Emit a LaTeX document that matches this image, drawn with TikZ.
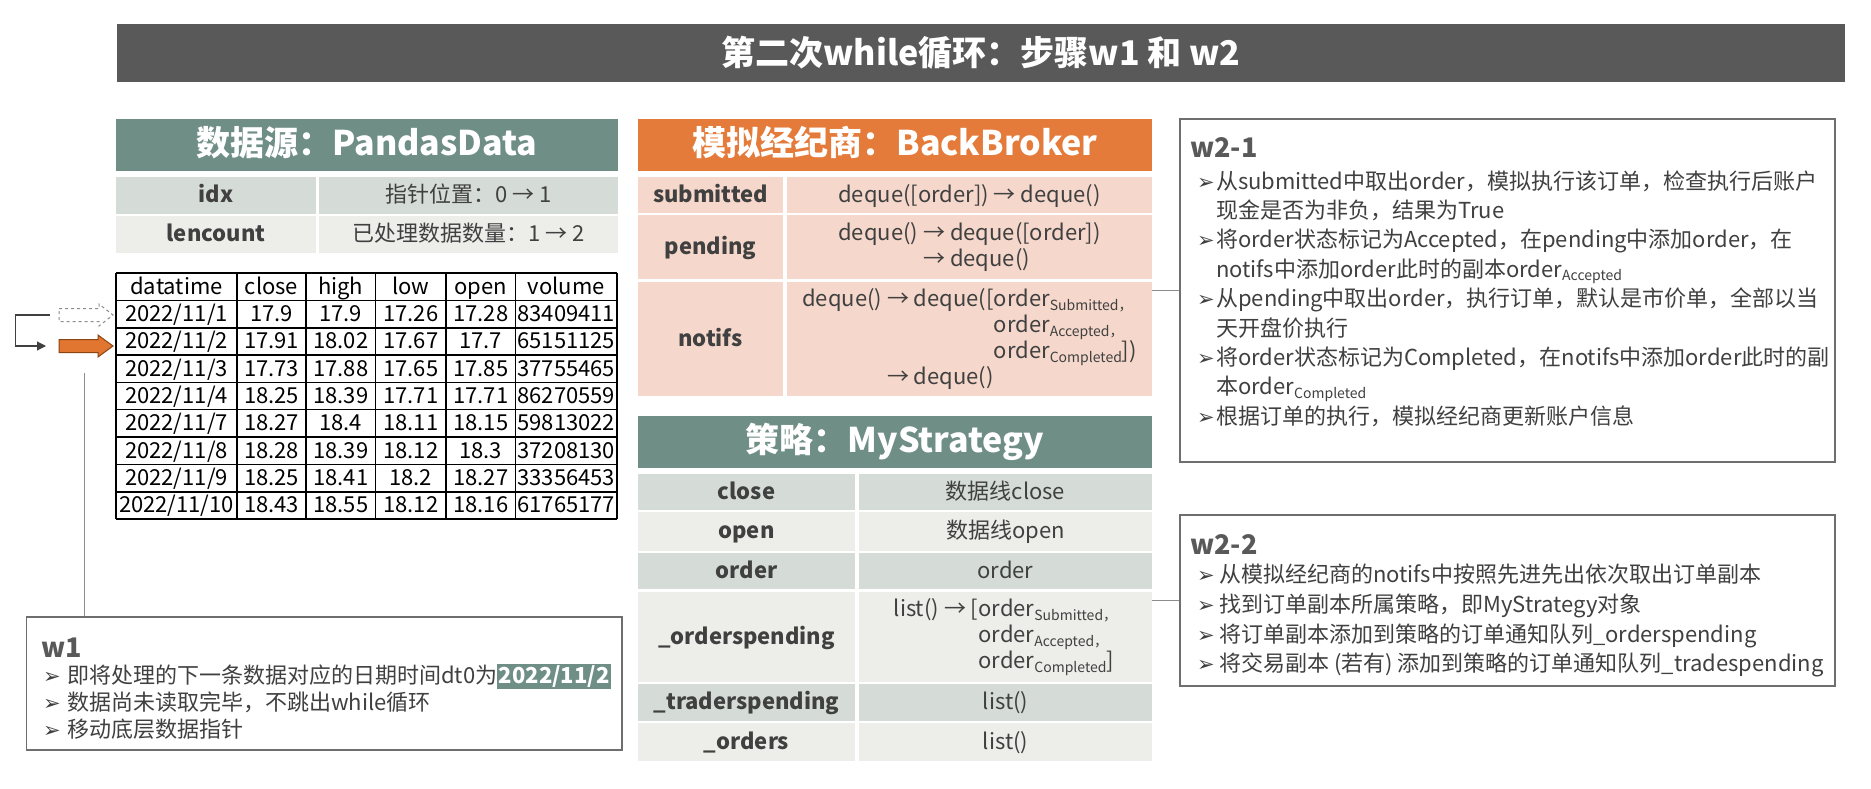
\documentclass[tikz,border=0pt]{standalone}
\usepackage{fontspec}
\setmainfont{Noto Sans CJK SC}
\newfontfamily\dejavu{DejaVu Sans}
\usetikzlibrary{arrows.meta}
\definecolor{titlegray}{HTML}{595959}
\definecolor{hdteal}{HTML}{6F8E86}
\definecolor{hdorange}{HTML}{E47B3A}
\definecolor{rowdark}{HTML}{D5DCD8}
\definecolor{rowlight}{HTML}{EDEEEA}
\definecolor{rowpink}{HTML}{F5D8CB}
\definecolor{txtgray}{HTML}{404040}
\definecolor{boxgray}{HTML}{6E6E6E}
\definecolor{linegray}{HTML}{8C8C8C}
\definecolor{arrorange}{HTML}{E0762F}
\definecolor{arrborder}{HTML}{8B4513}
\newcommand\fs[2]{\fontsize{#1}{#2}\selectfont}
\newcommand\sub[1]{\raisebox{-0.3ex}{\fs{14}{14}#1}}
\newcommand\bull{{\dejavu\fs{21}{21}➢}}
\newcommand\cellbox[8]{\node[#7, fill=#6, minimum width={#4-#2}, minimum height={#5-#3}] (#1) at ({(#2+#4)/2},{(#3+#5)/2}) {#8};}
\tikzset{
  hdr/.style={inner sep=0pt, text=white, font=\bfseries\fs{34}{40}, text height=26pt, text depth=6pt},
  cell/.style={inner sep=0pt, text=txtgray, font=\fs{22}{26}, text height=17pt, text depth=3pt},
  mcell/.style={inner sep=0pt, text=txtgray, font=\fs{22}{26}, align=left},
  key/.style={cell, font=\bfseries\fs{22}{26}},
  dt/.style={inner sep=0pt, text=black, font=\fs{22}{26}, anchor=base},
  notebox/.style={draw=boxgray, line width=1.2pt, fill=white, inner sep=0pt},
  btxt/.style={inner sep=0pt, anchor=base west, text=txtgray, font=\fs{22}{26}},
  btitle/.style={inner sep=0pt, anchor=base west, text=titlegray, font=\bfseries\fs{27}{30}},
  gline/.style={draw=linegray, line width=1.1pt},
}
\begin{document}
\begin{tikzpicture}[x=1pt,y=-1pt]
\path[use as bounding box, fill=white] (0,0) rectangle (1871,788);

% title
\node[fill=titlegray, minimum width=1728pt, minimum height=58pt, inner sep=0pt, text=white, font=\bfseries\fs{34}{40}] (title) at (981,53) {第二次while循环：步骤w1 和 w2};

% PandasData
\cellbox{pdh}{116}{119}{618}{171}{hdteal}{hdr}{数据源：PandasData}
\cellbox{idxk}{116}{177}{316}{214}{rowdark}{key}{idx}
\cellbox{idxv}{319}{177}{618}{214}{rowdark}{cell}{指针位置：0 → 1}
\cellbox{lenk}{116}{216}{316}{253}{rowlight}{key}{lencount}
\cellbox{lenv}{319}{216}{618}{253}{rowlight}{cell}{已处理数据数量：1 → 2}

% data table grid
\foreach \k/\w in {0/1.3,1/1.3,2/2.2,3/1.3,4/1.3,5/1.3,6/1.3,7/1.3,8/2.2,9/1.3}
  \draw[line width=\w pt] (116,{273+27.33*\k}) -- (617,{273+27.33*\k});
\foreach \xx/\w in {116/1.3,237/1.3,306/2.2,375.5/1.3,446/1.3,515.5/1.3,617/1.3}
  \draw[line width=\w pt] (\xx,273) -- (\xx,519);
\foreach [count=\i from 0] \row in {{datatime,close,high,low,open,volume},
  {2022/11/1,17.9,17.9,17.26,17.28,83409411},
  {2022/11/2,17.91,18.02,17.67,17.7,65151125},
  {2022/11/3,17.73,17.88,17.65,17.85,37755465},
  {2022/11/4,18.25,18.39,17.71,17.71,86270559},
  {2022/11/7,18.27,18.4,18.11,18.15,59813022},
  {2022/11/8,18.28,18.39,18.12,18.3,37208130},
  {2022/11/9,18.25,18.41,18.2,18.27,33356453},
  {2022/11/10,18.43,18.55,18.12,18.16,61765177}} {
  \foreach [count=\j from 0] \v in \row {
    \pgfmathsetmacro\cx{{176.5,271.5,340.75,410.75,480.75,566.25}[\j]}
    \pgfmathsetmacro\cy{273+27.33*\i+13.67+7.5}
    \node[dt] (t-\i-\j) at (\cx,\cy) {\v};
  }
}

% row pointer arrows
\draw[draw=linegray, dashed, line width=1pt, fill=white] (59,308.5) -- (99,308.5) -- (99,304) -- (113,315) -- (99,326) -- (99,321.5) -- (59,321.5) -- cycle;
\draw[draw=arrborder, line width=1pt, fill=arrorange] (59,339.5) -- (98,339.5) -- (98,335) -- (113,346) -- (98,357) -- (98,352.5) -- (59,352.5) -- cycle;
\coordinate (dtail) at (50,315);
\coordinate (otail) at (46,346);
\draw[draw=txtgray, line width=1.1pt, -{Triangle[length=9pt,width=9pt]}] (dtail) -- ++(-34.5,0) |- (otail);

% w1 box
\node[notebox, minimum width=595.5pt, minimum height=133pt] (w1) at (324.25,683.5) {};
\coordinate (vtop) at (84.5,373);
\draw[gline] (vtop) -- (vtop |- w1.north);
\node[btitle] (w1t) at (41,657) {w1};
\node[btxt] (w1a) at (43,683) {\makebox[24pt][l]{\bull}即将处理的下一条数据对应的日期时间dt0为{\setlength\fboxsep{1.5pt}\colorbox{hdteal}{\textcolor{white}{\bfseries 2022/11/2}}}};
\node[btxt] (w1b) at (43,710) {\makebox[24pt][l]{\bull}数据尚未读取完毕，不跳出while循环};
\node[btxt] (w1c) at (43,737) {\makebox[24pt][l]{\bull}移动底层数据指针};

% BackBroker
\cellbox{bbh}{638}{119}{1152}{171}{hdorange}{hdr}{模拟经纪商：BackBroker}
\cellbox{subk}{638}{177}{783}{213}{rowpink}{key}{submitted}
\cellbox{subv}{787}{177}{1152}{213}{rowpink}{cell}{deque([order]) → deque()}
\cellbox{penk}{638}{215}{783}{279}{rowpink}{key}{pending}
\cellbox{penv}{787}{215}{1152}{279}{rowpink}{mcell}{deque() → deque([order])\\\phantom{deque() }→ deque()}
\cellbox{notk}{638}{282}{783}{396}{rowpink}{key}{notifs}
\cellbox{notv}{787}{282}{1152}{396}{rowpink}{mcell}{deque() → deque([order\sub{Submitted，}\\\phantom{deque() → deque([}order\sub{Accepted，}\\\phantom{deque() → deque([}order\sub{Completed}])\\\phantom{deque() }→ deque()}

% MyStrategy
\cellbox{msh}{638}{416}{1152}{468}{hdteal}{hdr}{策略：MyStrategy}
\cellbox{clk}{638}{474}{855}{510}{rowdark}{key}{close}
\cellbox{clv}{859}{474}{1152}{510}{rowdark}{cell}{数据线close}
\cellbox{opk}{638}{512}{855}{551}{rowlight}{key}{open}
\cellbox{opv}{859}{512}{1152}{551}{rowlight}{cell}{数据线open}
\cellbox{ork}{638}{553}{855}{589}{rowdark}{key}{order}
\cellbox{orv}{859}{553}{1152}{589}{rowdark}{cell}{order}
\cellbox{opsk}{638}{592}{855}{682}{rowlight}{key}{\_orderspending}
\cellbox{opsv}{859}{592}{1152}{682}{rowlight}{mcell}{list() → [order\sub{Submitted，}\\\phantom{list() → [}order\sub{Accepted，}\\\phantom{list() → [}order\sub{Completed}]}
\cellbox{trk}{638}{684}{855}{721}{rowdark}{key}{\_traderspending}
\cellbox{trv}{859}{684}{1152}{721}{rowdark}{cell}{list()}
\cellbox{osk}{638}{723}{855}{761}{rowlight}{key}{\_orders}
\cellbox{osv}{859}{723}{1152}{761}{rowlight}{cell}{list()}

% w2-1 box
\node[notebox, minimum width=655pt, minimum height=343pt] (w21) at (1507.5,290.5) {};
\draw[gline] (w21.west) -- (w21.west -| bbh.east);
\node[btitle] (w21t) at (1190,157) {w2-1};
\node[btxt] (w21a) at (1197,189) {\makebox[19pt][l]{\bull}从submitted中取出order，模拟执行该订单，检查执行后账户};
\node[btxt] (w21b) at (1216,218.4) {现金是否为非负，结果为True};
\node[btxt] (w21c) at (1197,247.8) {\makebox[19pt][l]{\bull}将order状态标记为Accepted，在pending中添加order，在};
\node[btxt] (w21d) at (1216,277.2) {notifs中添加order此时的副本order\sub{Accepted}};
\node[btxt] (w21e) at (1197,306.6) {\makebox[19pt][l]{\bull}从pending中取出order，执行订单，默认是市价单，全部以当};
\node[btxt] (w21f) at (1216,336) {天开盘价执行};
\node[btxt] (w21g) at (1197,365.4) {\makebox[19pt][l]{\bull}将order状态标记为Completed，在notifs中添加order此时的副};
\node[btxt] (w21h) at (1216,394.8) {本order\sub{Completed}};
\node[btxt] (w21i) at (1197,424.2) {\makebox[19pt][l]{\bull}根据订单的执行，模拟经纪商更新账户信息};

% w2-2 box
\node[notebox, minimum width=655pt, minimum height=171pt] (w22) at (1507.5,600.5) {};
\draw[gline] (w22.west) -- (w22.west -| msh.east);
\node[btitle] (w22t) at (1190,554) {w2-2};
\node[btxt] (w22a) at (1197,582) {\makebox[22pt][l]{\bull}从模拟经纪商的notifs中按照先进先出依次取出订单副本};
\node[btxt] (w22b) at (1197,612) {\makebox[22pt][l]{\bull}找到订单副本所属策略，即MyStrategy对象};
\node[btxt] (w22c) at (1197,642) {\makebox[22pt][l]{\bull}将订单副本添加到策略的订单通知队列\_orderspending};
\node[btxt] (w22d) at (1197,671) {\makebox[22pt][l]{\bull}将交易副本 (若有) 添加到策略的订单通知队列\_tradespending};
\end{tikzpicture}
\end{document}
